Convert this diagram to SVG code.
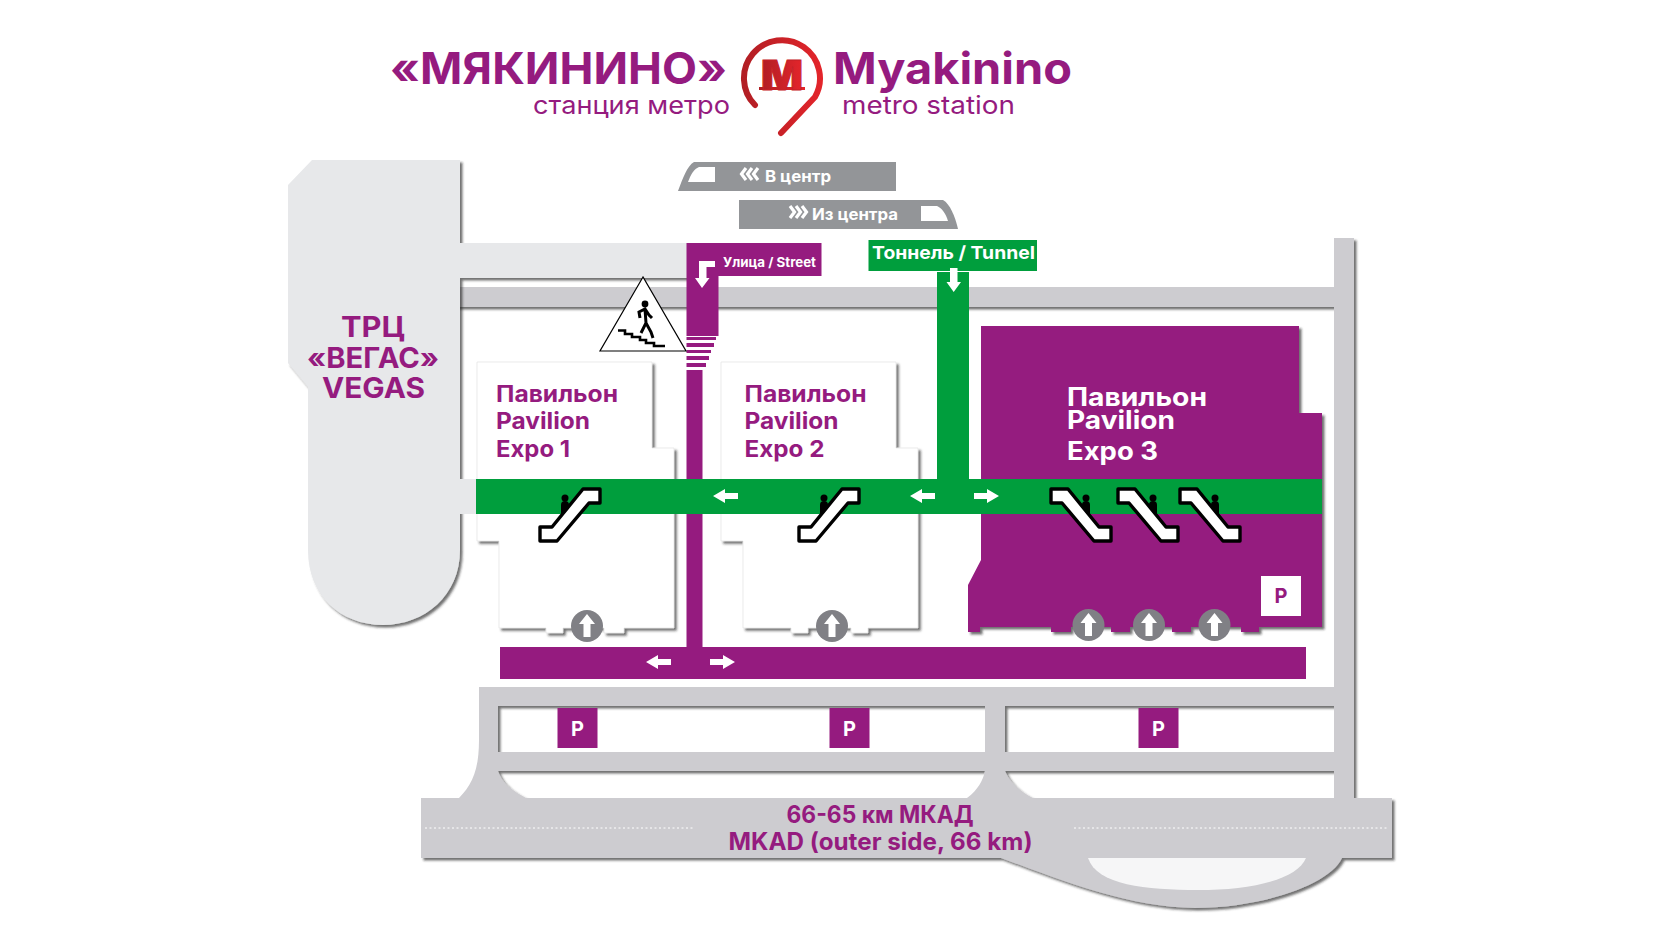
<svg xmlns="http://www.w3.org/2000/svg" xmlns:xlink="http://www.w3.org/1999/xlink" width="1680" height="944" viewBox="0 0 1680 944">
<style>
text{font-family:"Inter","Noto Sans","Liberation Sans",sans-serif;font-weight:700}
.pu{fill:#951b7f}.gr{fill:#009e3d}.wt{fill:#fff}
.tpu{fill:#951b7f}.twt{fill:#fff}
.road{fill:#cdccd0}.mall{fill:#e7e8ea}.train{fill:#939598}
.pav{font-size:23px}
.vg{font-size:28px;text-anchor:middle}
.pk{font-size:20px;text-anchor:middle}
.esc{fill:#fff;stroke:#000;stroke-width:3.4;stroke-linejoin:round}
.chev{fill:none;stroke:#fff;stroke-width:3.2}
</style>
<defs>
<filter id="sh" x="-5%" y="-5%" width="110%" height="110%"><feDropShadow dx="2.5" dy="2.5" stdDeviation="1.2" flood-color="#222" flood-opacity="0.65"/></filter>
<linearGradient id="red" x1="0" y1="0" x2="1" y2="0"><stop offset="0" stop-color="#b01e24"/><stop offset="1" stop-color="#e4252b"/></linearGradient>
<linearGradient id="redu" gradientUnits="userSpaceOnUse" x1="741" y1="0" x2="823" y2="0"><stop offset="0" stop-color="#b01e24"/><stop offset="1" stop-color="#e4252b"/></linearGradient>
<path id="al" d="M0,0 L12,-7 V-3 H25 V3 H12 V7 Z" fill="#fff"/>
<g id="lift"><circle r="16" fill="#808085"/><path d="M0,-12 L8,-2 H3.5 V11 H-3.5 V-2 H-8 Z" fill="#fff"/></g>
<g id="escal"><path class="esc" d="M540,527 H552 L583,489 H600 V503 H589 L557,541 H540 Z"/><circle cx="565" cy="498" r="3.5" fill="#000"/><path d="M561,517 V505 Q561,501 565,501 Q569,501 569,505 V508 Z" fill="#000"/></g>
</defs>

<g id="roads"><path class="road" filter="url(#sh)" fill-rule="evenodd" d="M455,287 H1334 V238 H1354 V798 H1392 V858 H1342 C1330,885 1260,908 1195,908 C1130,908 1060,880 1001,858 H421 V798 H459 C472,785 479,770 479,740 V687 H1334 V307 H455 Z
M498,706 H985 V752 H498 Z M1005,706 H1334 V752 H1005 Z
M498,771 H985 C983,780 978,790 967,798 H526 C510,790 502,782 498,771 Z
M1005,771 H1334 V798 H1033 C1018,790 1010,782 1005,771 Z"/>
<path d="M1088,858 H1306 C1297,880 1250,890 1198,890 C1146,890 1097,885 1088,858 Z" fill="#f6f6f7"/>
<path d="M425,828 H694 M1074,828 H1388" stroke="#fff" stroke-width="1" stroke-dasharray="2 2.5" fill="none"/>
<text class="tpu" x="880" y="823" font-size="24" text-anchor="middle" textLength="187" lengthAdjust="spacingAndGlyphs">66-65 км МКАД</text>
<text class="tpu" x="880.500" y="850" font-size="24" text-anchor="middle" textLength="304" lengthAdjust="spacingAndGlyphs">MKAD (outer side, 66 km)</text>
</g>

<g id="mall-vegas">
<path class="mall" filter="url(#sh)" d="M312,160 H460 V243 H687 V278 H460 V550 C460,595 425,625 383,625 C340,625 308,595 308,550 V387 L288,363 V185 Z"/>
<rect class="mall" x="455" y="479" width="25" height="35"/>
<text class="tpu vg" x="373" y="337" textLength="64" lengthAdjust="spacingAndGlyphs">ТРЦ</text>
<text class="tpu vg" x="373" y="368" textLength="132" lengthAdjust="spacingAndGlyphs">«ВЕГАС»</text>
<text class="tpu vg" x="373.500" y="398" textLength="103" lengthAdjust="spacingAndGlyphs">VEGAS</text>
</g>

<g id="pavilion-1">
<path class="wt" filter="url(#sh)" stroke="#ddd" stroke-width=".6" d="M477,362 H652 V448 H674 V628 H624 V633 H604 V628 H563 V633 H546 V628 H499 V541 H477 Z"/>
<text class="tpu pav" x="496" y="402" textLength="122" lengthAdjust="spacingAndGlyphs">Павильон</text>
<text class="tpu pav" x="496" y="429" textLength="94" lengthAdjust="spacingAndGlyphs">Pavilion</text>
<text class="tpu pav" x="496" y="457" textLength="74" lengthAdjust="spacingAndGlyphs">Expo 1</text>
</g>
<g id="pavilion-2">
<path class="wt" filter="url(#sh)" stroke="#ddd" stroke-width=".6" d="M721,362 H896 V448 H918 V628 H868 V633 H851 V628 H808 V633 H791 V628 H743 V541 H721 Z"/>
<text class="tpu pav" x="744.500" y="402" textLength="122" lengthAdjust="spacingAndGlyphs">Павильон</text>
<text class="tpu pav" x="744.500" y="429" textLength="94" lengthAdjust="spacingAndGlyphs">Pavilion</text>
<text class="tpu pav" x="744.500" y="457" textLength="80" lengthAdjust="spacingAndGlyphs">Expo 2</text>
</g>
<g id="pavilion-3">
<path class="pu" filter="url(#sh)" d="M981,326 H1299 V413 H1322 V627 H1259 V632 H1241 V627 H1191 V632 H1172 V627 H1130 V632 H1111 V627 H1071 V632 H1051 V627 H980 V632 H968 V585 L981,560 Z"/>
<text class="twt" x="1067" y="406" font-size="25" textLength="140" lengthAdjust="spacingAndGlyphs">Павильон</text>
<text class="twt" x="1067" y="429" font-size="25" textLength="108" lengthAdjust="spacingAndGlyphs">Pavilion</text>
<text class="twt" x="1067" y="460" font-size="25" textLength="91" lengthAdjust="spacingAndGlyphs">Expo 3</text>
<rect class="wt" x="1261" y="576" width="40" height="40"/>
<text class="tpu pk" x="1281" y="603">P</text>
</g>

<g id="connectors">
<rect class="pu" x="500" y="647" width="806" height="32"/>
<rect class="pu" x="686.500" y="370" width="16" height="278"/>
<path class="pu" d="M686.500,243 H821.500 V276 H718.500 V336 H686.500 Z"/>
<path class="pu" d="M686.500,337 H716 V340 H686.500 Z M686.500,343 H714 V347 H686.500 Z M686.500,350 H711 V353 H686.500 Z M686.500,356 H709 V360 H686.500 Z M686.500,363 H706 V367 H686.500 Z"/>
<rect class="gr" x="476" y="479" width="846" height="35"/>
<rect class="gr" x="937" y="272" width="32" height="210"/>
<rect class="gr" x="868.500" y="240" width="168.500" height="31"/>
<path d="M715,261 V267 H706.500 V278 H709.500 L702,288 L695,278 H699 V261 Z" fill="#fff"/>
<path d="M950,268 H957.500 V282 H961 L953.700,292 L946.500,282 H950 Z" fill="#fff"/>
<use xlink:href="#al" href="#al" x="713" y="496"/>
<use xlink:href="#al" href="#al" x="910" y="496"/>
<use xlink:href="#al" href="#al" transform="translate(999,496) scale(-1,1)"/>
<use xlink:href="#al" href="#al" x="646" y="662"/>
<use xlink:href="#al" href="#al" transform="translate(735,662) scale(-1,1)"/>
<text class="twt" x="723" y="267" font-size="13" textLength="93" lengthAdjust="spacingAndGlyphs">Улица / Street</text>
<text class="twt" x="872" y="259" font-size="18" textLength="163" lengthAdjust="spacingAndGlyphs">Тоннель / Tunnel</text>
</g>

<g id="escalators">
<use xlink:href="#escal" href="#escal"/>
<use xlink:href="#escal" href="#escal" x="259"/>
<use xlink:href="#escal" href="#escal" transform="translate(1651,0) scale(-1,1)"/>
<use xlink:href="#escal" href="#escal" transform="translate(1718,0) scale(-1,1)"/>
<use xlink:href="#escal" href="#escal" transform="translate(1780,0) scale(-1,1)"/>
</g>

<g id="lifts">
<use xlink:href="#lift" href="#lift" x="587" y="626"/>
<use xlink:href="#lift" href="#lift" x="832" y="626"/>
<use xlink:href="#lift" href="#lift" x="1088.500" y="625"/>
<use xlink:href="#lift" href="#lift" x="1149" y="625"/>
<use xlink:href="#lift" href="#lift" x="1214.500" y="625"/>
</g>

<g id="parking">
<rect class="pu" x="557.500" y="708" width="40" height="40"/><text class="twt pk" x="577.500" y="736">P</text>
<rect class="pu" x="829.500" y="708" width="40" height="40"/><text class="twt pk" x="849.500" y="736">P</text>
<rect class="pu" x="1138.500" y="708" width="40" height="40"/><text class="twt pk" x="1158.500" y="736">P</text>
</g>

<g id="stairs-sign">
<path d="M643,277 L600,351 H686 Z" fill="#fff" stroke="#000" stroke-width="1.2"/>
<circle cx="645" cy="304" r="3.400" fill="#000"/>
<path d="M640,318 L639,312 L645,309 L649,315 L652,318 M645,309 L646,323 L641,333 M646,323 L651,332 L653,338" fill="none" stroke="#000" stroke-width="3"/>
<path d="M618,330.500 H625 V334 H632 V337 H640 V340 H646 V343 H654 V346 H665" fill="none" stroke="#000" stroke-width="2.600"/>
</g>

<g id="train-to-centre">
<path class="train" d="M678,191 C683,178 687,166 694,162 H896 V191 Z"/>
<path class="wt" d="M688,182 C691,174 694,169 699,167 H715 V182 Z"/>
<path class="chev" d="M746,168 L741.500,174 L746,180 M752,168 L747.500,174 L752,180 M758,168 L753.500,174 L758,180"/>
<text class="twt" x="765" y="182" font-size="16" textLength="66" lengthAdjust="spacingAndGlyphs">В центр</text>
</g>
<g id="train-from-centre">
<path class="train" d="M739,200 H943 C950,204 955,216 958,229 H739 Z"/>
<path class="wt" d="M921,206 H937 C942,208 946,214 948,221 H921 Z"/>
<path class="chev" d="M790,206 L794.500,212 L790,218 M796,206 L800.500,212 L796,218 M802,206 L806.500,212 L802,218"/>
<text class="twt" x="812" y="220" font-size="16" textLength="86" lengthAdjust="spacingAndGlyphs">Из центра</text>
</g>

<g id="title">
<text class="tpu" x="390" y="84" font-size="44" textLength="337" lengthAdjust="spacingAndGlyphs">«МЯКИНИНО»</text>
<text class="tpu" x="833" y="84" font-size="44" textLength="239" lengthAdjust="spacingAndGlyphs">Myakinino</text>
<text class="tpu" x="533" y="114" font-size="25" style="font-weight:400" textLength="197" lengthAdjust="spacingAndGlyphs">станция метро</text>
<text class="tpu" x="842" y="114" font-size="25" style="font-weight:400" textLength="173" lengthAdjust="spacingAndGlyphs">metro station</text>
<path d="M755,105 A38,38 0 1 1 815,97 L781,133" fill="none" stroke="url(#redu)" stroke-width="6" stroke-linecap="round"/>
<rect x="759" y="87" width="46" height="3" fill="url(#red)"/>
<text x="782" y="90" font-size="41" text-anchor="middle" fill="url(#red)" stroke="#c62127" stroke-width="1" style="font-weight:900" textLength="42" lengthAdjust="spacingAndGlyphs">М</text>
</g>
</svg>
